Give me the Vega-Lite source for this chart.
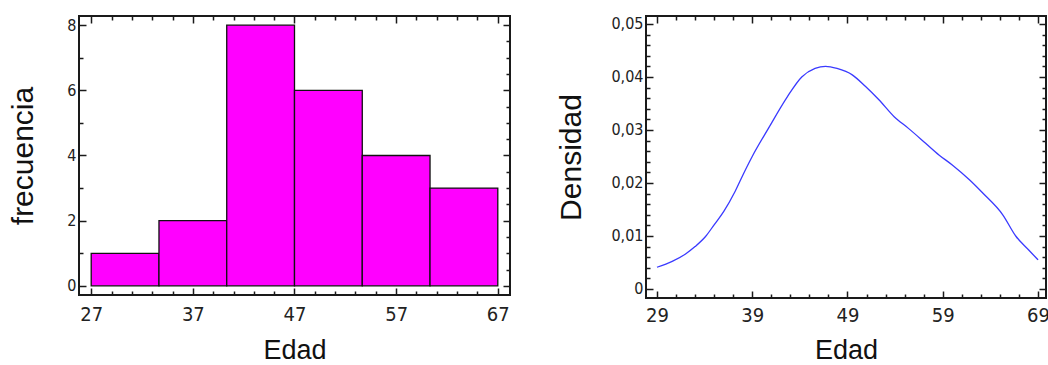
{
  "$schema": "https://vega.github.io/schema/vega-lite/v6.json",
  "padding": {"left": 7, "top": 14, "right": 0, "bottom": 0},
  "background": "white",
  "spacing": 136,
  "bounds": "flush",
  "config": {
    "view": {"stroke": "#1a1a1a", "strokeWidth": 2},
    "axis": {
      "domain": false,
      "grid": false,
      "tickColor": "#1a1a1a",
      "tickWidth": 1.5,
      "labelFont": "DejaVu Sans Condensed, Liberation Sans Narrow, Liberation Sans",
      "labelColor": "#222222",
      "labelOverlap": false,
      "labelFlush": false,
      "titleFont": "Liberation Sans",
      "titleFontWeight": "normal",
      "titleColor": "#111111"
    }
  },
  "datasets": {
    "hist": [
      {"start": 27, "end": 33.667, "count": 1},
      {"start": 33.667, "end": 40.333, "count": 2},
      {"start": 40.333, "end": 47, "count": 8},
      {"start": 47, "end": 53.667, "count": 6},
      {"start": 53.667, "end": 60.333, "count": 4},
      {"start": 60.333, "end": 67, "count": 3}
    ],
    "dens": [
      {"edad": 29.0, "densidad": 0.0041},
      {"edad": 30.6, "densidad": 0.0052},
      {"edad": 32.0, "densidad": 0.0066},
      {"edad": 33.0, "densidad": 0.0080},
      {"edad": 34.1, "densidad": 0.0099},
      {"edad": 35.0, "densidad": 0.0121},
      {"edad": 36.0, "densidad": 0.0146},
      {"edad": 37.2, "densidad": 0.0184},
      {"edad": 38.1, "densidad": 0.0218},
      {"edad": 39.0, "densidad": 0.0250},
      {"edad": 40.7, "densidad": 0.0303},
      {"edad": 42.7, "densidad": 0.0363},
      {"edad": 44.2, "densidad": 0.0400},
      {"edad": 45.6, "densidad": 0.0416},
      {"edad": 46.7, "densidad": 0.0420},
      {"edad": 47.9, "densidad": 0.0416},
      {"edad": 49.5, "densidad": 0.0404},
      {"edad": 50.9, "densidad": 0.0382},
      {"edad": 52.3, "densidad": 0.0357},
      {"edad": 53.9, "densidad": 0.0325},
      {"edad": 55.4, "densidad": 0.0303},
      {"edad": 57.2, "densidad": 0.0275},
      {"edad": 58.6, "densidad": 0.0253},
      {"edad": 60.0, "densidad": 0.0234},
      {"edad": 61.8, "densidad": 0.0206},
      {"edad": 63.2, "densidad": 0.0181},
      {"edad": 65.3, "densidad": 0.0140},
      {"edad": 66.7, "densidad": 0.0099},
      {"edad": 68.0, "densidad": 0.0074},
      {"edad": 69.0, "densidad": 0.0055}
    ]
  },
  "hconcat": [
    {
      "width": 431,
      "height": 279,
      "data": {"name": "hist"},
      "resolve": {"axis": {"x": "independent", "y": "independent"}},
      "layer": [
        {
          "mark": {"type": "bar", "fill": "#ff00ff", "stroke": "#111111", "strokeWidth": 1.3},
          "encoding": {
            "x": {
              "field": "start", "type": "quantitative",
              "scale": {"domain": [25.8, 68.2], "nice": false, "zero": false},
              "axis": {
                "orient": "bottom", "title": "Edad", "titleFontSize": 27, "titlePadding": 10,
                "values": [27,29,31,33,35,37,39,41,43,45,47,49,51,53,55,57,59,61,63,65,67],
                "format": "d",
                "labelExpr": "(datum.value - 27) % 10 == 0 ? datum.label : ''",
                "labelFontSize": 20, "labelPadding": 16,
                "tickSize": {"condition": {"test": "(datum.value - 27) % 10 == 0", "value": -7}, "value": -4}
              }
            },
            "x2": {"field": "end"},
            "y": {
              "field": "count", "type": "quantitative",
              "scale": {"domain": [-0.28, 8.28], "nice": false},
              "axis": {
                "orient": "left", "title": "frecuencia", "titleFontSize": 30, "titlePadding": 28,
                "values": [0,0.5,1,1.5,2,2.5,3,3.5,4,4.5,5,5.5,6,6.5,7,7.5,8],
                "format": "d",
                "labelExpr": "datum.value % 2 == 0 ? datum.label : ''",
                "labelFontSize": 16, "labelPadding": 10,
                "tickSize": {"condition": {"test": "datum.value % 2 == 0", "value": -7}, "value": -4}
              }
            },
            "y2": {"datum": 0}
          }
        },
        {
          "mark": {"type": "bar", "opacity": 0},
          "encoding": {
            "x": {
              "field": "start", "type": "quantitative",
              "scale": {"domain": [25.8, 68.2], "nice": false, "zero": false},
              "axis": {
                "orient": "top", "title": null, "labels": false,
                "values": [27,29,31,33,35,37,39,41,43,45,47,49,51,53,55,57,59,61,63,65,67],
                "tickSize": {"condition": {"test": "(datum.value - 27) % 10 == 0", "value": -7}, "value": -4}
              }
            },
            "x2": {"field": "end"},
            "y": {
              "field": "count", "type": "quantitative",
              "scale": {"domain": [-0.28, 8.28], "nice": false},
              "axis": {
                "orient": "right", "title": null, "labels": false,
                "values": [0,0.5,1,1.5,2,2.5,3,3.5,4,4.5,5,5.5,6,6.5,7,7.5,8],
                "tickSize": {"condition": {"test": "datum.value % 2 == 0", "value": -7}, "value": -4}
              }
            },
            "y2": {"datum": 0}
          }
        }
      ]
    },
    {
      "width": 400,
      "height": 282,
      "data": {"name": "dens"},
      "resolve": {"axis": {"x": "independent", "y": "independent"}},
      "layer": [
        {
          "mark": {"type": "line", "color": "#3a3aff", "strokeWidth": 1.3, "interpolate": "monotone"},
          "encoding": {
            "x": {
              "field": "edad", "type": "quantitative",
              "scale": {"domain": [27.85, 69.84], "nice": false, "zero": false},
              "axis": {
                "orient": "bottom", "title": "Edad", "titleFontSize": 27, "titlePadding": 9,
                "values": [29,31,33,35,37,39,41,43,45,47,49,51,53,55,57,59,61,63,65,67,69],
                "format": "d",
                "labelExpr": "(datum.value - 29) % 10 == 0 ? datum.label : ''",
                "labelFontSize": 20, "labelPadding": 14,
                "tickSize": {"condition": {"test": "(datum.value - 29) % 10 == 0", "value": -7}, "value": -4}
              }
            },
            "y": {
              "field": "densidad", "type": "quantitative",
              "scale": {"domain": [-0.0017, 0.0515], "nice": false},
              "axis": {
                "orient": "left", "title": "Densidad", "titleFontSize": 30, "titlePadding": 24,
                "values": [0,0.002,0.004,0.006,0.008,0.01,0.012,0.014,0.016,0.018,0.02,0.022,0.024,0.026,0.028,0.03,0.032,0.034,0.036,0.038,0.04,0.042,0.044,0.046,0.048,0.05],
                "labelExpr": "abs(datum.value * 100 - round(datum.value * 100)) < 0.001 ? (datum.value == 0 ? '0' : replace(format(datum.value, '.2f'), '.', ',')) : ''",
                "labelFontSize": 16, "labelPadding": 10,
                "tickSize": {"condition": {"test": "abs(datum.value * 100 - round(datum.value * 100)) < 0.001", "value": -7}, "value": -4}
              }
            }
          }
        },
        {
          "mark": {"type": "line", "opacity": 0},
          "encoding": {
            "x": {
              "field": "edad", "type": "quantitative",
              "scale": {"domain": [27.85, 69.84], "nice": false, "zero": false},
              "axis": {
                "orient": "top", "title": null, "labels": false,
                "values": [29,31,33,35,37,39,41,43,45,47,49,51,53,55,57,59,61,63,65,67,69],
                "tickSize": {"condition": {"test": "(datum.value - 29) % 10 == 0", "value": -7}, "value": -4}
              }
            },
            "y": {
              "field": "densidad", "type": "quantitative",
              "scale": {"domain": [-0.0017, 0.0515], "nice": false},
              "axis": {
                "orient": "right", "title": null, "labels": false,
                "values": [0,0.002,0.004,0.006,0.008,0.01,0.012,0.014,0.016,0.018,0.02,0.022,0.024,0.026,0.028,0.03,0.032,0.034,0.036,0.038,0.04,0.042,0.044,0.046,0.048,0.05],
                "tickSize": {"condition": {"test": "abs(datum.value * 100 - round(datum.value * 100)) < 0.001", "value": -7}, "value": -4}
              }
            }
          }
        }
      ]
    }
  ]
}
